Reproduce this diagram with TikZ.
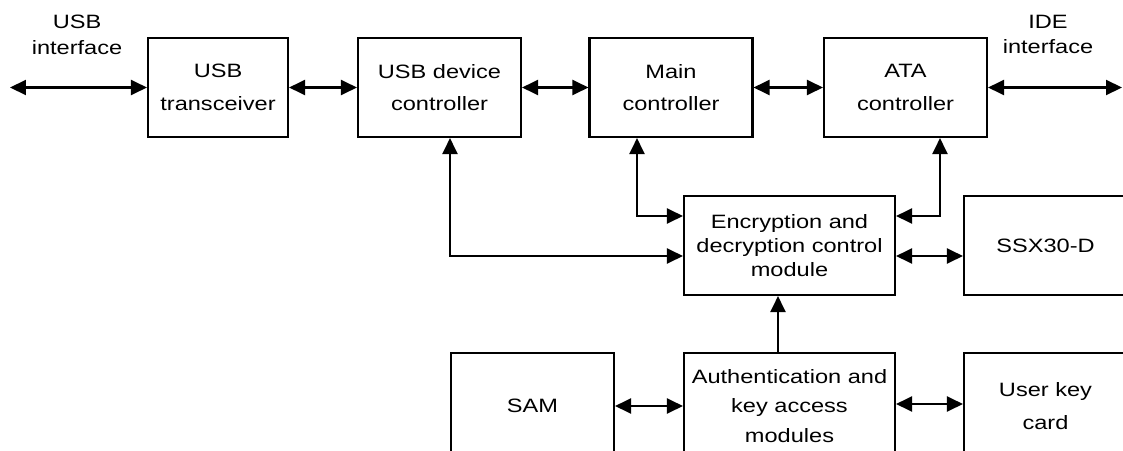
\documentclass[tikz,border=0pt]{standalone}
\usepackage{fontspec}
\setmainfont{Liberation Sans}[FakeStretch=1.22]
\usepackage{tikz}
\usetikzlibrary{arrows.meta,positioning,calc}

\begin{document}
\begin{tikzpicture}[x=0.02cm,y=-0.02cm,line width=1.2pt,
		>={Triangle[length=0.32cm,width=0.3cm]},
		blk/.style={draw,align=center,inner sep=0pt,minimum width=3.26cm,minimum height=1.98cm,font=\fontsize{11}{18.5}\selectfont},
		wideblk/.style={blk,minimum width=4.22cm},
		lbl/.style={align=center,inner sep=0pt,font=\fontsize{11}{14.7}\selectfont}
	]
		\useasboundingbox (0,0) rectangle (1123,450);
		\clip (0,0) rectangle (1123,450);
		
		% top row
		\node [blk,minimum width=2.8cm] (xcvr) at (218,87.5) {USB\\transceiver};
		\node [blk] (usbdev) at (439.5,87.5) {USB device\\controller};
		\node [blk] (mainctl) at (671,87.5) {Main\\controller};
		\node [blk] (atactl) at (905.5,87.5) {ATA\\controller};
		\node [lbl] (usbif) at (77,34.5) {USB\\interface};
		\node [lbl] (ideif) at (1048,34.5) {IDE\\interface};
		\coordinate (usbend) at (10,87.5);
		\coordinate (ideend) at (1122,87.5);
		
		% middle row
		\node [wideblk,font=\fontsize{11}{13.6}\selectfont] (crypt) at (789.5,245.5) {Encryption and\\decryption control\\module};
		\node [blk] (ssx) at (1045.5,245.5) {SSX30-D};
		
		% bottom row
		\node [blk,minimum height=2.12cm] (sam) at (532.5,406) {SAM};
		\node [wideblk,minimum height=2.12cm,font=\fontsize{11}{17}\selectfont] (auth) at (789.5,406) {Authentication and\\key access\\modules};
		\node [blk,minimum height=2.12cm] (ukey) at (1045.5,406) {User key\\card};
		
		\draw [<->] (usbend) -- (xcvr.west);
		\draw [<->] (xcvr.east) -- (usbdev.west);
		\draw [<->] (usbdev.east) -- (mainctl.west);
		\draw [<->] (mainctl.east) -- (atactl.west);
		\draw [<->] (atactl.east) -- (ideend);
		
		\draw [<->] ($(usbdev.south)+(10.5,0)$) |- ($(crypt.west)+(0,10.5)$);
		\draw [<->] ($(mainctl.south)+(-34,0)$) |- ($(crypt.west)+(0,-29.5)$);
		\draw [<->] ($(atactl.south)+(34.5,0)$) |- ($(crypt.east)+(0,-29.5)$);
		\draw [<->] ($(crypt.east)+(0,10.5)$) -- ($(ssx.west)+(0,10.5)$);
		
		\draw [->] ($(auth.north)+(-11.5,0)$) -- ($(crypt.south)+(-11.5,0)$);
		\draw [<->] (sam.east) -- (auth.west);
		\draw [<->] ($(auth.east)+(0,-2)$) -- ($(ukey.west)+(0,-2)$);
		\end{tikzpicture}
\end{document}
